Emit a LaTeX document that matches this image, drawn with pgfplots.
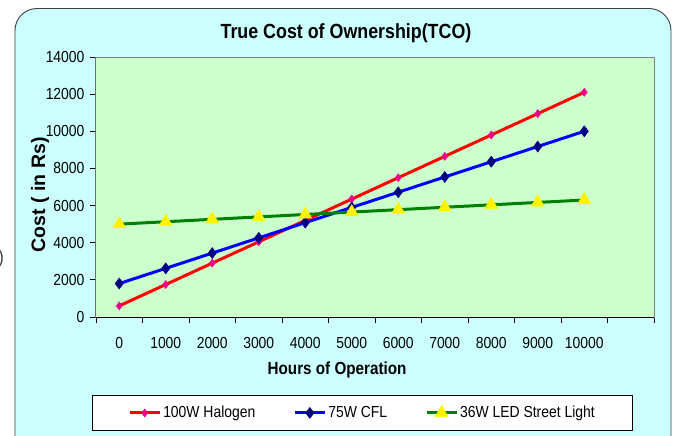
\documentclass[border=0pt]{standalone}
\usepackage{pgfplots}
\pgfplotsset{compat=1.18}
\usepackage{fontspec}
\setmainfont{Liberation Sans}
\newfontfamily\nar[FakeStretch=0.87]{Liberation Sans}
\definecolor{cyanbg}{HTML}{CCFFFF}
\definecolor{plotbg}{HTML}{CCFFCC}
\definecolor{navy}{HTML}{000080}
\definecolor{dgreen}{HTML}{008000}
\newcommand{\fs}[1]{\nar\fontsize{#1}{#1}\selectfont}
\begin{document}
\begin{tikzpicture}[x=1pt,y=1pt]
\useasboundingbox (0,0) rectangle (675,-436);
\clip (0,0) rectangle (675,-436);
\fill[white] (0,0) rectangle (675,-436);
\draw[fill=cyanbg, draw=black!75, line width=0.9pt, rounded corners=22pt] (15,-8.5) rectangle (671,-470);
\node[font=\fs{19}, text=black!75, anchor=east, inner sep=0pt] at (4,-259) {)};
\begin{axis}[
  at={(96pt,-317pt)}, anchor=south west,
  width=558pt, height=260pt, scale only axis,
  xmin=-0.5, xmax=11.5, ymin=0, ymax=14000,
  scaled y ticks=false,
  xtick={0,...,10},
  xticklabels={0,1000,2000,3000,4000,5000,6000,7000,8000,9000,10000},
  minor xtick={-0.5,0.5,...,11.5},
  ytick={0,2000,...,14000},
  yticklabels={0,2000,4000,6000,8000,10000,12000,14000},
  tick pos=left,
  tick align=outside,
  major tick length=6pt, minor tick length=6pt,
  major x tick style={draw=none},
  tick style={black, line width=0.8pt},
  axis background/.style={fill=plotbg},
  axis line style={draw=gray, line width=1pt},
  ticklabel style={font=\fs{16}},
  xticklabel style={yshift=-11pt},
  yticklabel style={xshift=-2pt},
  title={\textbf{True Cost of Ownership(TCO)}},
  title style={font=\fs{20.5}, at={(rel axis cs:0.448,1)}, anchor=center, yshift=18pt},
  xlabel={\textbf{Hours of Operation}},
  xlabel style={font=\fs{17.5}, at={(rel axis cs:0.432,0)}, anchor=center, yshift=-53pt},
  ylabel={\textbf{Cost ( in Rs)}},
  ylabel style={font=\fontsize{19.5}{19.5}\selectfont, at={(axis description cs:-0.1004,0.47)}, anchor=center},
  legend style={at={(rel axis cs:0.4776,-0.369)}, anchor=center, legend columns=3,
    draw=black, fill=white, line width=0.8pt, font=\fs{16}, inner xsep=36pt, inner ysep=9pt,
    /tikz/every even column/.append style={column sep=36pt}},
  legend image code/.code={\draw[#1,mark repeat=2,mark phase=2] plot coordinates {(0pt,0pt)(15pt,0pt)(30pt,0pt)};},
]
\addplot[red, line width=3pt, mark=diamond*, mark size=4pt, mark options={fill=magenta, draw=magenta, line width=0.5pt}]
  coordinates {(0,600)(1,1750)(2,2900)(3,4050)(4,5200)(5,6350)(6,7500)(7,8650)(8,9800)(9,10950)(10,12100)};
\addlegendentry{100W Halogen}
\addplot[blue, line width=3pt, mark=diamond*, mark size=5.5pt, mark options={fill=navy, draw=navy, line width=0.5pt}]
  coordinates {(0,1800)(1,2620)(2,3440)(3,4260)(4,5080)(5,5900)(6,6720)(7,7540)(8,8360)(9,9180)(10,10000)};
\addlegendentry{75W CFL}
\addplot[dgreen, line width=3pt, mark=triangle*, mark size=7.5pt, mark options={fill=yellow, draw=yellow, line width=0.5pt}]
  coordinates {(0,5000)(1,5130)(2,5260)(3,5390)(4,5520)(5,5650)(6,5780)(7,5910)(8,6040)(9,6170)(10,6300)};
\addlegendentry{36W LED Street Light}
\draw[black, line width=1pt] (rel axis cs:0,1) -- (rel axis cs:0,0) -- (rel axis cs:1,0);
\end{axis}
\end{tikzpicture}
\end{document}
